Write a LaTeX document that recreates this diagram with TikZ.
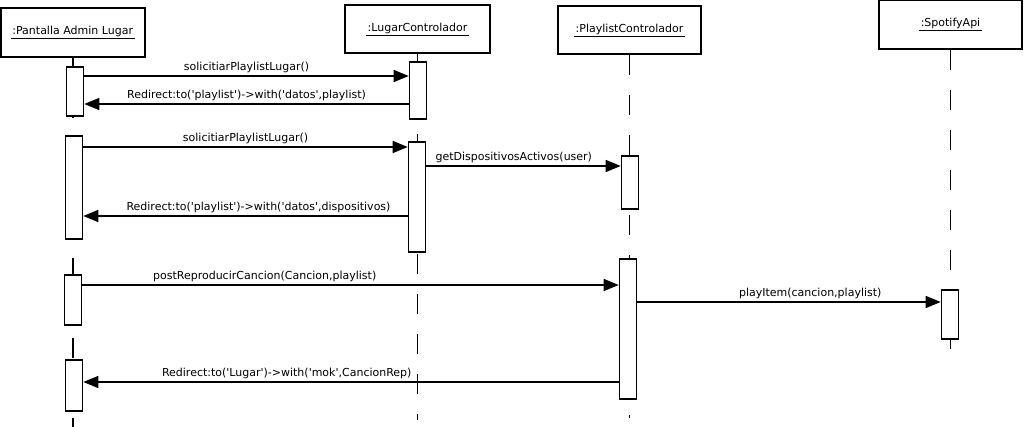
\documentclass[tikz,border=0pt]{standalone}
\usepackage{fontspec}
\newfontfamily\diagfont{DejaVu Sans}
\usetikzlibrary{arrows.meta,positioning}

\begin{document}
\begin{tikzpicture}[x=1pt,y=-1pt,
  font=\diagfont\fontsize{11}{12}\selectfont,
  objbox/.style={draw, line width=1.8pt, minimum height=49pt, inner sep=0pt},
  actbar/.style={draw, fill=white, line width=1.6pt, minimum width=17pt, inner sep=0pt, anchor=north},
  lifeline/.style={line width=1.6pt, dash pattern=on 20pt off 20pt},
  msg/.style={line width=1.5pt, -{Triangle[length=15pt,width=12pt]}},
  lbl/.style={above, inner sep=2.5pt}]
                \useasboundingbox (0,0) rectangle (1027,427);

                % Objects
                \node[objbox, minimum width=144pt] (pantalla) at (72.7,32.5) {\underline{\,:Pantalla Admin Lugar\,}};
                \node[objbox, minimum width=145pt, minimum height=48pt] (lugar) at (417.5,29) {\underline{\,:LugarControlador\,}};
                \node[objbox, minimum width=143pt, minimum height=48pt] (playlist) at (629.5,30) {\underline{\,:PlaylistControlador\,}};
                \node[objbox, minimum width=143pt] (spotify) at (950.5,24.5) {\underline{\,:SpotifyApi\,}};

                % Lifelines
                \draw[lifeline] (pantalla.south) -- (pantalla.south |- 0,427);
                \draw[lifeline] (lugar.south) -- (lugar.south |- 0,420);
                \draw[lifeline] (playlist.south) -- (playlist.south |- 0,418);
                \draw[lifeline] (spotify.south) -- (spotify.south |- 0,349);

                % Activations
                \node[actbar, minimum height=49pt] (pa1) at (75,66) {};
                \node[actbar, minimum height=103pt] (pa2) at (74,135) {};
                \node[actbar, minimum height=50pt] (pa3) at (73,274) {};
                \node[actbar, minimum height=51pt] (pa4) at (74,359) {};
                \node[actbar, minimum height=57pt] (la1) at (418,61) {};
                \node[actbar, minimum height=110pt] (la2) at (417,141) {};
                \node[actbar, minimum height=53pt] (pl1) at (630,155) {};
                \node[actbar, minimum height=140pt] (pl2) at (628,258) {};
                \node[actbar, minimum height=49pt] (sa1) at (950,289) {};

                % Messages
                \draw[msg] (pa1.east |- 0,76) -- (la1.west |- 0,76) node[lbl, midway] {solicitiarPlaylistLugar()};
                \draw[msg] (la1.west |- 0,104) -- (pa1.east |- 0,104) node[lbl, midway] {Redirect:to('playlist')->with('datos',playlist)};
                \draw[msg] (pa2.east |- 0,147) -- (la2.west |- 0,147) node[lbl, midway] {solicitiarPlaylistLugar()};
                \draw[msg] (la2.east |- 0,166) -- (pl1.west |- 0,166) node[lbl, pos=0.45] {getDispositivosActivos(user)};
                \draw[msg] (la2.west |- 0,216) -- (pa2.east |- 0,216) node[lbl, pos=0.46] {Redirect:to('playlist')->with('datos',dispositivos)};
                \draw[msg] (pa3.east |- 0,285) -- (pl2.west |- 0,285) node[lbl, pos=0.34] {postReproducirCancion(Cancion,playlist)};
                \draw[msg] (pl2.east |- 0,302) -- (sa1.west |- 0,302) node[lbl, pos=0.57] {playItem(cancion,playlist)};
                \draw[msg] (pl2.west |- 0,382) -- (pa4.east |- 0,382) node[lbl, pos=0.62] {Redirect:to('Lugar')->with('mok',CancionRep)};
\end{tikzpicture}
\end{document}
